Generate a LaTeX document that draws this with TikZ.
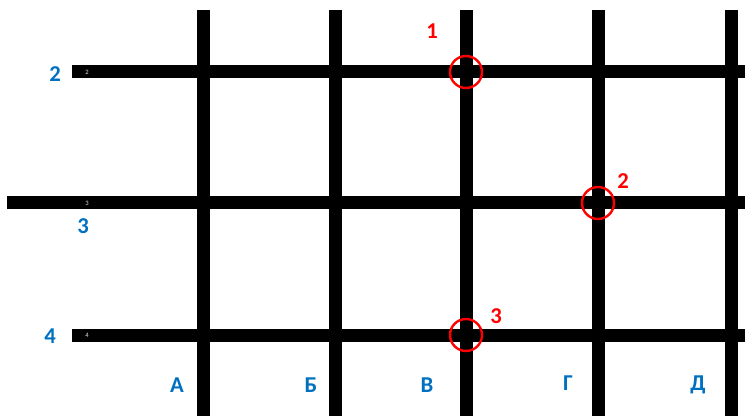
\documentclass[tikz,border=0pt]{standalone}
\usepackage{fontspec}
\setmainfont{Carlito}
\usepackage{tikz}
\usetikzlibrary{positioning, calc}
\definecolor{axisblue}{RGB}{0, 112, 192}
\definecolor{markred}{RGB}{255, 0, 0}

\begin{document}
\begin{tikzpicture}[x=0.75pt, y=-0.75pt,
    gridline/.style={line width=9.75pt, black},
    axislabel/.style={font=\fontsize{17}{19}\selectfont\bfseries, text=axisblue},
    tag/.style={font=\fontsize{5}{5}\selectfont, text=gray!25, inner sep=0pt},
    ring/.style={circle, draw=markred, line width=1.8pt, minimum size=24pt, inner sep=0pt},
    ringlabel/.style={font=\fontsize{17}{19}\selectfont\bfseries, text=markred}]
    \useasboundingbox (0,0) rectangle (745,416);

    % Column axes
    \foreach \name/\x in {colA/203, colB/335, colV/466, colG/598, colD/731} {
        \coordinate (\name-top) at (\x,10);
        \coordinate (\name-bot) at (\x,416);
        \draw[gridline] (\name-top) -- (\name-bot);
    }

    % Row axes
    \foreach \name/\x/\y in {row2/72/72, row3/7/203, row4/72/335} {
        \coordinate (\name-left) at (\x,\y);
        \coordinate (\name-right) at (745,\y);
        \draw[gridline] (\name-left) -- (\name-right);
    }

    % Tiny numbers inside the rows
    \node[tag] (tag2) at (87,72) {2};
    \node[tag] (tag3) at (87,203) {3};
    \node[tag] (tag4) at (87,335) {4};

    % Row labels
    \node[axislabel] (lab2) at (55,74) {2};
    \node[axislabel] (lab3) at (83,226) {3};
    \node[axislabel] (lab4) at (50,336) {4};

    % Column labels
    \node[axislabel] (labA) at (177,385) {А};
    \node[axislabel] (labB) at (311,385) {Б};
    \node[axislabel] (labV) at (427,385) {В};
    \node[axislabel] (labG) at (568,383) {Г};
    \node[axislabel] (labD) at (698,385) {Д};

    % Marked crossings
    \node[ring] (mark1) at (colV-top|-row2-left) {};
    \node[ring] (mark2) at (colG-top|-row3-left) {};
    \node[ring] (mark3) at (colV-top|-row4-left) {};
    \node[ringlabel] (num1) at (432,31) {1};
    \node[ringlabel] (num2) at (623,181) {2};
    \node[ringlabel] (num3) at (496,316) {3};
\end{tikzpicture}
\end{document}
